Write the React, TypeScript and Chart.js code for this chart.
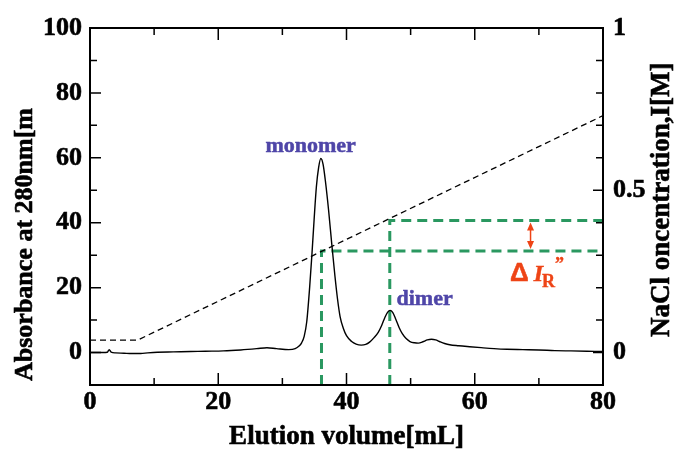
import React, { useEffect, useRef } from 'react';
import { Chart, registerables } from 'chart.js';

Chart.register(...registerables);

// Elution profile: absorbance at 280 nm versus elution volume (mL)
const elutionVolume = [
  0, 1, 2, 2.7, 3.0, 3.3, 4, 5.3, 6.5, 7.9, 9, 10.5, 13, 15.7, 18, 20.8, 23.5, 26.0, 27.6, 29.1,
  31.0, 32.0, 32.6, 33.0, 33.4, 33.8, 34.25, 34.6, 34.95, 35.3, 35.65, 36.0, 36.35, 36.7, 37.2,
  37.7, 38.2, 38.6, 39.0, 39.5, 40.0, 40.8, 41.5, 42.3, 43.0, 43.6, 44.3, 44.95, 45.5, 46.0, 46.4,
  46.8, 47.2, 47.7, 48.2, 48.7, 49.3, 49.9, 50.6, 51.2, 52.0, 52.6, 53.25, 53.9, 54.5, 55.3, 56.1,
  57.5, 59.2, 61, 63, 65, 67.5, 70, 72.5, 75, 77.5, 80,
];
const absorbance = [
  0, 0, 0, 0.1, 0.9, 0.1, -0.1, -0.2, -0.3, -0.3, -0.1, 0.1, 0.2, 0.3, 0.4, 0.5, 0.8, 1.2, 1.5, 1.2,
  0.9, 1.2, 2.0, 3.0, 5.0, 9.5, 20, 30, 41, 51, 57, 59.8, 58, 53, 44,
  33.5, 23.5, 16.5, 11.1, 7.5, 5.2, 3.4, 2.6, 2.3, 2.5, 3.2, 4.6, 6.2, 8.4, 10.9, 12.4,
  13.0, 12.4, 10.2, 7.7, 5.8, 4.3, 3.4, 3.0, 2.9, 3.4, 3.9, 4.1, 3.9, 3.4, 2.8, 2.4,
  2.1, 1.8, 1.5, 1.2, 1.0, 0.9, 0.8, 0.6, 0.5, 0.4, 0.3,
];

// Salt gradient (M NaCl)
const gradientVolume = [0, 7.4, 80];
const gradientNaCl = [0.038, 0.038, 0.73];

// Elution salt concentration read at each peak
const monomerGuideVolume = [36.1, 36.1, 80];
const monomerGuideNaCl = [-0.1, 0.313, 0.313];
const dimerGuideVolume = [46.75, 46.75, 80];
const dimerGuideNaCl = [-0.1, 0.407, 0.407];

// Axis ranges and labelled ticks
const xRange = [0, 80];
const absRange = [-10, 100];
const naclRange = [-0.1, 1];
const xTickLabels = [0, 20, 40, 60, 80];
const absTickLabels = [0, 20, 40, 60, 80, 100];
const naclTickLabels = [0, 0.5, 1];

// Annotation anchors (data units)
const monomerLabelAt = { x: 34.4, y: 61.7 };
const dimerLabelAt = { x: 47.8, y: 14.6 };
const deltaLabelAt = { x: 65.5, y: 21.9 };
const deltaArrowX = 68.7;

const SERIF = '"Liberation Serif", "Times New Roman", serif';
const PURPLE = '#4f46a8';
const GREEN = '#2a9860';
const RED = '#ee4416';

const toPoints = (xs: number[], ys: number[]) => xs.map((x, i) => ({ x, y: ys[i] }));
const isLabelled = (list: number[], v: number) => list.some((l) => Math.abs(l - v) < 1e-6);

// Bold text with a thin outline of the same colour for a heavier weight
const heavyText = (ctx: CanvasRenderingContext2D, text: string, x: number, y: number, w = 0.6) => {
  ctx.lineWidth = w;
  ctx.strokeStyle = ctx.fillStyle as string;
  ctx.fillText(text, x, y);
  ctx.strokeText(text, x, y);
};

const framePlugin = {
  id: 'frameAndNotes',
  afterDraw(chart: any) {
    const { ctx, chartArea: a, scales } = chart;
    const x = scales.x;
    const y = scales.y;
    const y1 = scales.y1;
    ctx.save();

    // frame
    ctx.strokeStyle = '#000';
    ctx.lineWidth = 2;
    ctx.strokeRect(a.left, a.top, a.right - a.left, a.bottom - a.top);

    // inward tick marks
    ctx.lineWidth = 1.5;
    ctx.beginPath();
    x.ticks.forEach((t: any) => {
      const px = x.getPixelForValue(t.value);
      const len = isLabelled(xTickLabels, t.value) ? 12 : 7;
      ctx.moveTo(px, a.bottom);
      ctx.lineTo(px, a.bottom - len);
      ctx.moveTo(px, a.top);
      ctx.lineTo(px, a.top + len);
    });
    y.ticks.forEach((t: any) => {
      const py = y.getPixelForValue(t.value);
      const len = isLabelled(absTickLabels, t.value) ? 11 : 7;
      ctx.moveTo(a.left, py);
      ctx.lineTo(a.left + len, py);
    });
    y1.ticks.forEach((t: any) => {
      const py = y1.getPixelForValue(t.value);
      const len = isLabelled(naclTickLabels, t.value) ? 10 : 7;
      ctx.moveTo(a.right, py);
      ctx.lineTo(a.right - len, py);
    });
    ctx.stroke();

    // axis titles
    ctx.fillStyle = '#000';
    ctx.font = `bold 27px ${SERIF}`;
    ctx.textBaseline = 'alphabetic';
    ctx.textAlign = 'center';
    heavyText(ctx, 'Elution volume[mL]', (a.left + a.right) / 2, 444);

    ctx.textAlign = 'left';
    ctx.save();
    ctx.translate(32, a.bottom - 4);
    ctx.rotate(-Math.PI / 2);
    ctx.font = `bold 26px ${SERIF}`;
    heavyText(ctx, 'Absorbance at 280nm[m', 0, 0);
    ctx.restore();

    ctx.save();
    ctx.translate(a.right + 66, 337);
    ctx.rotate(-Math.PI / 2);
    heavyText(ctx, 'NaCl oncentration,I[M]', 0, 0);
    ctx.restore();

    // peak labels
    ctx.fillStyle = PURPLE;
    ctx.font = `bold 22px ${SERIF}`;
    ctx.textAlign = 'center';
    heavyText(ctx, 'monomer', x.getPixelForValue(monomerLabelAt.x), y.getPixelForValue(monomerLabelAt.y), 0.5);
    ctx.textAlign = 'left';
    heavyText(ctx, 'dimer', x.getPixelForValue(dimerLabelAt.x), y.getPixelForValue(dimerLabelAt.y), 0.5);

    // ΔI_R'' label
    ctx.fillStyle = RED;
    const lx = x.getPixelForValue(deltaLabelAt.x);
    const ly = y.getPixelForValue(deltaLabelAt.y);
    ctx.font = 'bold 26px "Liberation Sans", Arial, sans-serif';
    heavyText(ctx, '\u0394', lx, ly, 0.5);
    const dw = ctx.measureText('\u0394').width;
    ctx.font = `italic bold 24px ${SERIF}`;
    const ix = lx + dw + 5;
    heavyText(ctx, 'I', ix, ly, 0.5);
    const iw = ctx.measureText('I').width;
    ctx.font = `bold 18px ${SERIF}`;
    heavyText(ctx, 'R', ix + iw - 1, ly + 6, 0.4);
    const rw = ctx.measureText('R').width;
    heavyText(ctx, '\u201D', ix + iw + rw - 1, ly - 11, 0.4);

    // double-headed arrow between the two elution concentrations
    const ax = x.getPixelForValue(deltaArrowX);
    const yTop = y1.getPixelForValue(dimerGuideNaCl[1]) + 2;
    const yBot = y1.getPixelForValue(monomerGuideNaCl[1]) - 2;
    ctx.strokeStyle = RED;
    ctx.lineWidth = 1.5;
    ctx.beginPath();
    ctx.moveTo(ax, yTop + 6);
    ctx.lineTo(ax, yBot - 6);
    ctx.stroke();
    ctx.beginPath();
    ctx.moveTo(ax, yTop);
    ctx.lineTo(ax - 3.5, yTop + 8);
    ctx.lineTo(ax + 3.5, yTop + 8);
    ctx.closePath();
    ctx.moveTo(ax, yBot);
    ctx.lineTo(ax - 3.5, yBot - 8);
    ctx.lineTo(ax + 3.5, yBot - 8);
    ctx.closePath();
    ctx.fill();

    ctx.restore();
  },
};

export default function App() {
  const canvasRef = useRef<HTMLCanvasElement | null>(null);

  useEffect(() => {
    if (!canvasRef.current) return;
    const tickFont = { family: SERIF, size: 26, weight: 'bold' as const };
    const tickStyle = { color: '#000', font: tickFont, textStrokeColor: '#000', textStrokeWidth: 0.6 };
    const noGrid = { display: false, drawTicks: false };
    const chart = new Chart(canvasRef.current, {
      type: 'line',
      data: {
        datasets: [
          {
            label: 'Absorbance',
            data: toPoints(elutionVolume, absorbance),
            yAxisID: 'y',
            borderColor: '#000',
            borderWidth: 1.4,
            pointRadius: 0,
            cubicInterpolationMode: 'monotone',
          },
          {
            label: 'NaCl',
            data: toPoints(gradientVolume, gradientNaCl),
            yAxisID: 'y1',
            borderColor: '#000',
            borderWidth: 1.3,
            borderDash: [6, 4],
            pointRadius: 0,
          },
          {
            label: 'Monomer I_R',
            data: toPoints(monomerGuideVolume, monomerGuideNaCl),
            yAxisID: 'y1',
            borderColor: GREEN,
            borderWidth: 3,
            borderDash: [10, 6],
            pointRadius: 0,
          },
          {
            label: 'Dimer I_R',
            data: toPoints(dimerGuideVolume, dimerGuideNaCl),
            yAxisID: 'y1',
            borderColor: GREEN,
            borderWidth: 3,
            borderDash: [10, 6],
            pointRadius: 0,
          },
        ],
      },
      options: {
        animation: false,
        responsive: false,
        devicePixelRatio: 1,
        layout: { padding: { top: 28, left: 0, right: 0, bottom: 0 } },
        plugins: { legend: { display: false }, tooltip: { enabled: false } },
        scales: {
          x: {
            type: 'linear',
            min: xRange[0],
            max: xRange[1],
            grid: noGrid,
            border: { display: false },
            ticks: {
              ...tickStyle,
              stepSize: 10,
              autoSkip: false,
              maxRotation: 0,
              padding: 2,
              callback: (v: any) => (isLabelled(xTickLabels, Number(v)) ? String(v) : ''),
            },
            afterFit: (s: any) => {
              s.height = 67;
            },
          },
          y: {
            type: 'linear',
            position: 'left',
            min: absRange[0],
            max: absRange[1],
            grid: noGrid,
            border: { display: false },
            ticks: {
              ...tickStyle,
              stepSize: 10,
              autoSkip: false,
              padding: 8,
              callback: (v: any) => (isLabelled(absTickLabels, Number(v)) ? String(v) : ''),
            },
            afterFit: (s: any) => {
              s.width = 90;
            },
          },
          y1: {
            type: 'linear',
            position: 'right',
            min: naclRange[0],
            max: naclRange[1],
            grid: noGrid,
            border: { display: false },
            ticks: {
              ...tickStyle,
              stepSize: 0.1,
              autoSkip: false,
              padding: 10,
              callback: (v: any) => {
                const n = Number(v);
                const hit = naclTickLabels.find((l) => Math.abs(l - n) < 1e-6);
                return hit === undefined ? '' : String(hit);
              },
            },
            afterFit: (s: any) => {
              s.width = 74;
            },
          },
        },
      },
      plugins: [framePlugin],
    });
    return () => chart.destroy();
  }, []);

  return (
    <div style={{ position: 'fixed', left: 0, top: 0, width: 677, height: 452, background: '#fff' }}>
      <canvas ref={canvasRef} width={677} height={452} />
    </div>
  );
}
